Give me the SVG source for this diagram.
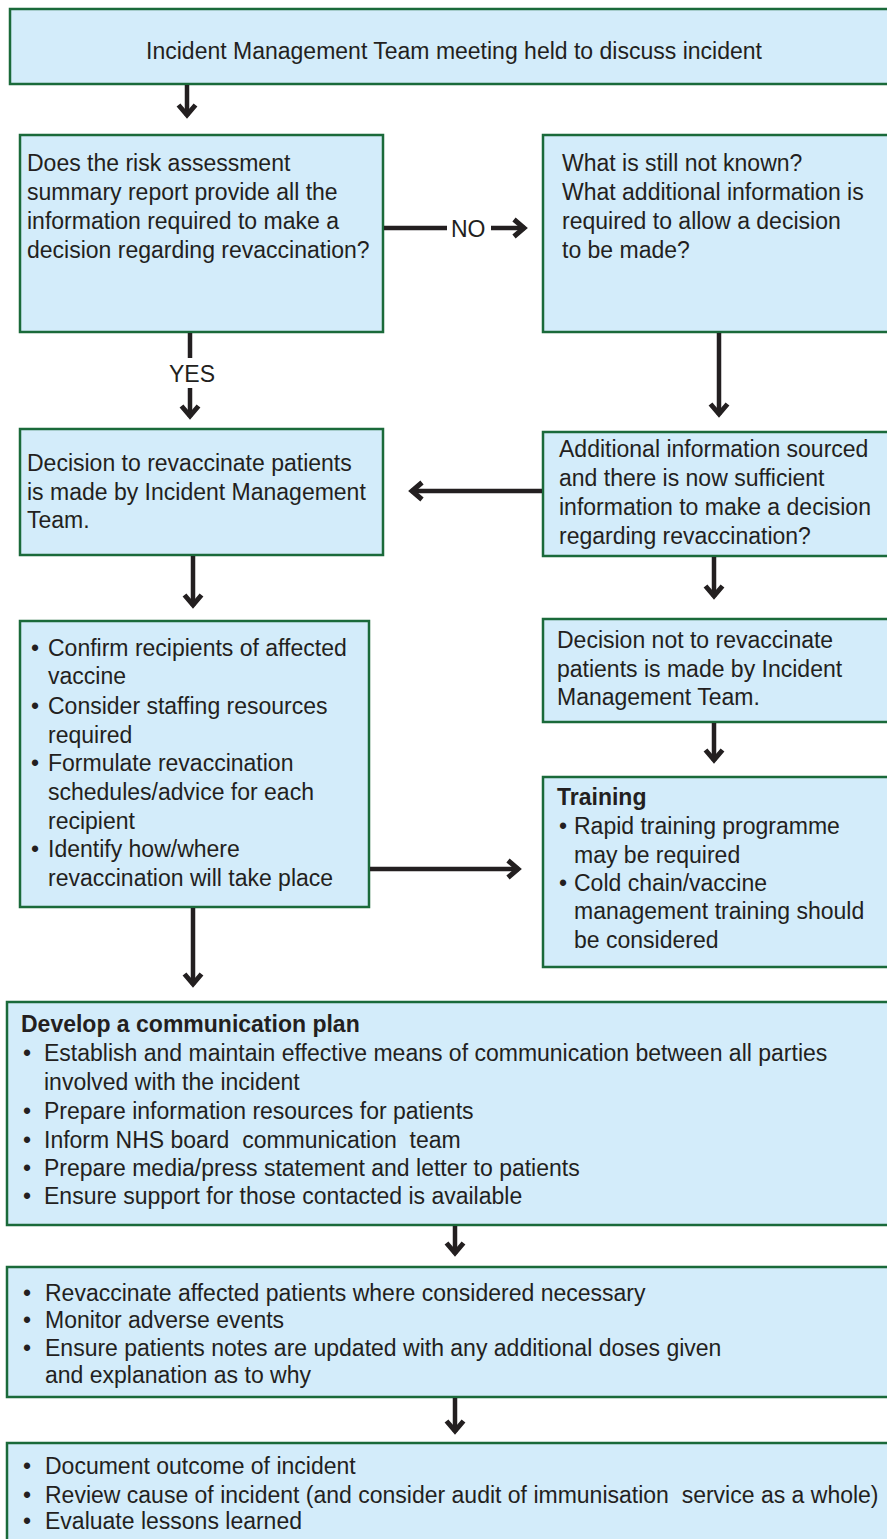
<svg xmlns="http://www.w3.org/2000/svg" width="887" height="1539" viewBox="0 0 887 1539">
<style>
.box{fill:#d3ecfa;stroke:#1a6a3a;stroke-width:2.5}
text{font-family:"Liberation Sans",Arial,sans-serif;font-size:23px;fill:#231f20;white-space:pre}
.b{font-weight:bold}
.c{stroke:#231f20;stroke-width:4.5;fill:none}
</style>
<defs>
<marker id="ah" markerUnits="userSpaceOnUse" markerWidth="30" markerHeight="30" viewBox="-20 -15 30 30" refX="0" refY="0" orient="auto">
<path d="M-11,-8.5 L-1,0 L-11,8.5" fill="none" stroke="#231f20" stroke-width="5" stroke-linejoin="miter"/>
</marker>
</defs>
<rect width="887" height="1539" fill="#fff"/>

<g id="n1"><rect class="box" x="10" y="9" width="890" height="75"/>
<text x="454" y="59" text-anchor="middle">Incident Management Team meeting held to discuss incident</text></g>

<g id="n2"><rect class="box" x="20" y="135" width="363" height="197"/>
<text x="27" y="171">Does the risk assessment</text>
<text x="27" y="200">summary report provide all the</text>
<text x="27" y="229">information required to make a</text>
<text x="27" y="258">decision regarding revaccination?</text></g>

<g id="n3"><rect class="box" x="543" y="135" width="360" height="197"/>
<text x="562" y="171">What is still not known?</text>
<text x="562" y="200">What additional information is</text>
<text x="562" y="229">required to allow a decision</text>
<text x="562" y="258">to be made?</text></g>

<g id="n4"><rect class="box" x="20" y="429" width="363" height="126"/>
<text x="27" y="471">Decision to revaccinate patients</text>
<text x="27" y="500">is made by Incident Management</text>
<text x="27" y="528">Team.</text></g>

<g id="n5"><rect class="box" x="543" y="432" width="360" height="124"/>
<text x="559" y="457">Additional information sourced</text>
<text x="559" y="486">and there is now sufficient</text>
<text x="559" y="515">information to make a decision</text>
<text x="559" y="544">regarding revaccination?</text></g>

<g id="n6"><rect class="box" x="20" y="621" width="349" height="286"/>
<text x="31" y="656">•</text><text x="48" y="656">Confirm recipients of affected</text>
<text x="48" y="684">vaccine</text>
<text x="31" y="714">•</text><text x="48" y="714">Consider staffing resources</text>
<text x="48" y="743">required</text>
<text x="31" y="771">•</text><text x="48" y="771">Formulate revaccination</text>
<text x="48" y="800">schedules/advice for each</text>
<text x="48" y="829">recipient</text>
<text x="31" y="857">•</text><text x="48" y="857">Identify how/where</text>
<text x="48" y="886">revaccination will take place</text></g>

<g id="n7"><rect class="box" x="543" y="619" width="360" height="103"/>
<text x="557" y="648">Decision not to revaccinate</text>
<text x="557" y="677">patients is made by Incident</text>
<text x="557" y="705">Management Team.</text></g>

<g id="n8"><rect class="box" x="543" y="777" width="360" height="190"/>
<text class="b" x="557" y="805">Training</text>
<text x="559" y="834">•</text><text x="574" y="834">Rapid training programme</text>
<text x="574" y="863">may be required</text>
<text x="559" y="891">•</text><text x="574" y="891">Cold chain/vaccine</text>
<text x="574" y="919">management training should</text>
<text x="574" y="948">be considered</text></g>

<g id="n9"><rect class="box" x="7" y="1002" width="896" height="223"/>
<text class="b" x="21" y="1032">Develop a communication plan</text>
<text x="23" y="1061">•</text><text x="44" y="1061">Establish and maintain effective means of communication between all parties</text>
<text x="44" y="1090">involved with the incident</text>
<text x="23" y="1119">•</text><text x="44" y="1119">Prepare information resources for patients</text>
<text x="23" y="1148">•</text><text x="44" y="1148">Inform NHS board  communication  team</text>
<text x="23" y="1176">•</text><text x="44" y="1176">Prepare media/press statement and letter to patients</text>
<text x="23" y="1204">•</text><text x="44" y="1204">Ensure support for those contacted is available</text></g>

<g id="n10"><rect class="box" x="7" y="1267" width="896" height="130"/>
<text x="23" y="1301">•</text><text x="45" y="1301">Revaccinate affected patients where considered necessary</text>
<text x="23" y="1328">•</text><text x="45" y="1328">Monitor adverse events</text>
<text x="23" y="1356">•</text><text x="45" y="1356">Ensure patients notes are updated with any additional doses given</text>
<text x="45" y="1383">and explanation as to why</text></g>

<g id="n11"><rect class="box" x="7" y="1443" width="896" height="110"/>
<text x="23" y="1474">•</text><text x="45" y="1474">Document outcome of incident</text>
<text x="23" y="1503">•</text><text x="45" y="1503">Review cause of incident (and consider audit of immunisation  service as a whole)</text>
<text x="23" y="1529">•</text><text x="45" y="1529">Evaluate lessons learned</text></g>

<g id="connectors">
<path class="c" d="M187,85 V116" marker-end="url(#ah)"/>
<path class="c" d="M384,228 H447"/>
<text x="451" y="237">NO</text>
<path class="c" d="M491,228 H525" marker-end="url(#ah)"/>
<path class="c" d="M190,333 V358"/>
<text x="192" y="382" text-anchor="middle">YES</text>
<path class="c" d="M190,388 V417" marker-end="url(#ah)"/>
<path class="c" d="M719,333 V415" marker-end="url(#ah)"/>
<path class="c" d="M542,491 H411" marker-end="url(#ah)"/>
<path class="c" d="M193,556 V606" marker-end="url(#ah)"/>
<path class="c" d="M714,557 V597" marker-end="url(#ah)"/>
<path class="c" d="M714,723 V761" marker-end="url(#ah)"/>
<path class="c" d="M370,869 H519" marker-end="url(#ah)"/>
<path class="c" d="M193,908 V985" marker-end="url(#ah)"/>
<path class="c" d="M455,1226 V1254" marker-end="url(#ah)"/>
<path class="c" d="M455,1398 V1432" marker-end="url(#ah)"/>
</g>
</svg>
